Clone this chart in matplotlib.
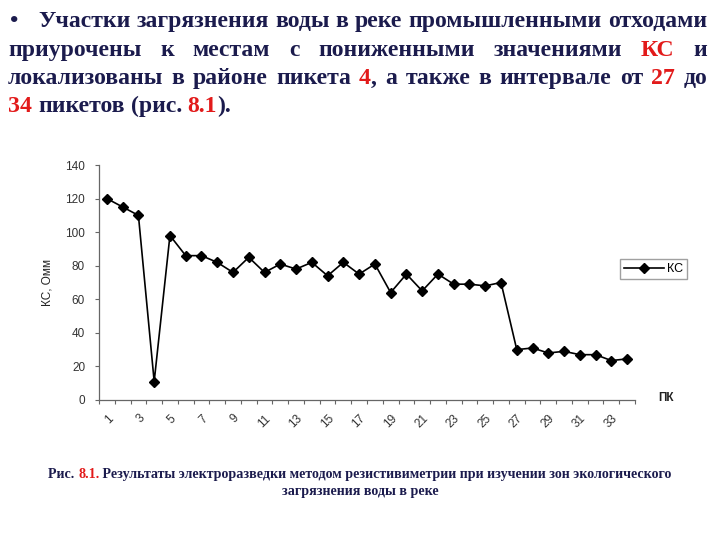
import matplotlib
matplotlib.use("Agg")
import matplotlib.pyplot as plt

# ---- data ----
pikets = [1, 2, 3, 4, 5, 6, 7, 8, 9, 10, 11, 12, 13, 14, 15, 16, 17,
          18, 19, 20, 21, 22, 23, 24, 25, 26, 27, 28, 29, 30, 31, 32, 33, 34]
ks_values = [120, 115, 110, 11, 98, 86, 86, 82, 76, 85, 76, 81, 78, 82, 74, 82, 75,
             81, 64, 75, 65, 75, 69, 69, 68, 70, 30, 31, 28, 29, 27, 27, 23.5, 24.5]
x_tick_labels = ['1', '3', '5', '7', '9', '11', '13', '15', '17', '19', '21',
                 '23', '25', '27', '29', '31', '33']
y_ticks = [0, 20, 40, 60, 80, 100, 120, 140]
series_name = 'КС'
y_label = 'КС, Омм'
x_label = 'ПК'

NAVY = '#1b1b4d'
RED = '#e21a1a'
W, H = 720, 540

fig = plt.figure(figsize=(7.2, 5.4), dpi=100)
fig.patch.set_facecolor('white')

def fx(px):
    return px / W

def fy(py):
    return 1 - py / H

SANS = ['Liberation Sans', 'DejaVu Sans']

# ---- chart ----
ax = fig.add_axes([fx(99), fy(400), fx(635) - fx(99), fy(165) - fy(400)])
ax.plot(pikets, ks_values, color='black', lw=1.2, marker='D', ms=5,
        markerfacecolor='black', markeredgecolor='black', label=series_name)
ax.set_xlim(pikets[0] - 0.5, pikets[-1] + 0.5)
ax.set_ylim(y_ticks[0], y_ticks[-1])
for s in ['top', 'right']:
    ax.spines[s].set_visible(False)
for s in ['left', 'bottom']:
    ax.spines[s].set_color('#666666')
    ax.spines[s].set_linewidth(0.9)

ax.set_yticks(y_ticks)
ax.set_yticklabels([str(v) for v in y_ticks], fontsize=8.5,
                   family=SANS, color='#333333')
ax.tick_params(axis='y', length=3, width=0.8, color='#666666', pad=7)

major_pos = [int(t) for t in x_tick_labels]
ax.set_xticks(major_pos)
ax.set_xticklabels(x_tick_labels, rotation=45, ha='right', rotation_mode='anchor',
                   fontsize=8.5, family=SANS, color='#333333')
ax.tick_params(axis='x', which='major', length=0, pad=9)
ax.set_xticks([p - 0.5 for p in pikets] + [pikets[-1] + 0.5], minor=True)
ax.tick_params(axis='x', which='minor', length=3, width=0.8, color='#666666')

leg = ax.legend(loc='center', bbox_to_anchor=(fx(653.5), fy(269)),
                bbox_transform=fig.transFigure, fancybox=False, frameon=True,
                edgecolor='#888888', handlelength=3.2, borderpad=0.3,
                handletextpad=0.3, borderaxespad=0, prop={'family': SANS, 'size': 9})
leg.get_frame().set_linewidth(1.0)

fig.text(fx(48), fy(283), y_label, rotation=90, ha='center', va='center',
         fontsize=8.5, family=['Liberation Sans Narrow', 'Liberation Sans', 'DejaVu Sans'], color='#222222')
fig.text(fx(666), fy(398), x_label, ha='center', va='center', fontsize=8.5,
         fontweight='bold', family=SANS, color='#222222')

# ---- paragraph text (justified) ----
renderer = fig.canvas.get_renderer()
SERIF = ['Liberation Serif', 'DejaVu Serif']

def measure(s, fs):
    t = fig.text(0, 0, s, fontsize=fs, fontweight='bold', family=SERIF)
    w = t.get_window_extent(renderer).width
    t.remove()
    return w

line1 = 'Участки загрязнения воды в реке промышленными отходами'
FS = 16 * (707 - 38) / measure(line1, 16)

def place_line(words, x0, x1, base_y, justify=True, fs=FS):
    widths = [sum(measure(seg, fs) for seg, _ in wd) for wd in words]
    if justify and len(words) > 1:
        gap = (x1 - x0 - sum(widths)) / (len(words) - 1)
    else:
        gap = measure('a b', fs) - measure('ab', fs)
    x = x0
    for wd, wdw in zip(words, widths):
        cx = x
        for seg, col in wd:
            fig.text(fx(cx), fy(base_y), seg, fontsize=fs, fontweight='bold',
                     family=SERIF, color=col, ha='left', va='baseline')
            cx += measure(seg, fs)
        x += wdw + gap

def simple(text):
    return [[(w, NAVY)] for w in text.split()]

fig.text(fx(10), fy(27), '•', fontsize=FS, fontweight='bold', family=SERIF,
         color=NAVY, ha='left', va='baseline')
place_line(simple(line1), 38, 707, 27)
place_line(simple('приурочены к местам с пониженными значениями') + [[('КС', RED)]] + [[('и', NAVY)]],
           8, 707, 56)
place_line(simple('локализованы в районе пикета') + [[('4', RED), (',', NAVY)]] +
           simple('а также в интервале от') + [[('27', RED)]] + [[('до', NAVY)]], 8, 707, 84)
place_line([[('34', RED)]] + simple('пикетов') + [[('(рис.', NAVY)], [('8.1', RED), (').', NAVY)]],
           8, 707, 112, justify=False)

# ---- caption ----
cap1 = [('Рис. ', NAVY), ('8.1.', RED),
        (' Результаты электроразведки методом резистивиметрии при изучении зон экологического', NAVY)]
cap2 = 'загрязнения воды в реке'
tot_at10 = sum(measure(s, 10) for s, _ in cap1)
cfs = 10 * 624 / tot_at10
widths = [measure(s, cfs) for s, _ in cap1]
x = 360 - sum(widths) / 2
for (s, c), w in zip(cap1, widths):
    fig.text(fx(x), fy(478), s, fontsize=cfs, fontweight='bold', family=SERIF,
             color=c, ha='left', va='baseline')
    x += w
fig.text(fx(360), fy(495), cap2, fontsize=cfs, fontweight='bold', family=SERIF,
         color=NAVY, ha='center', va='baseline')

fig.savefig('out.png', dpi=100, facecolor='white')
